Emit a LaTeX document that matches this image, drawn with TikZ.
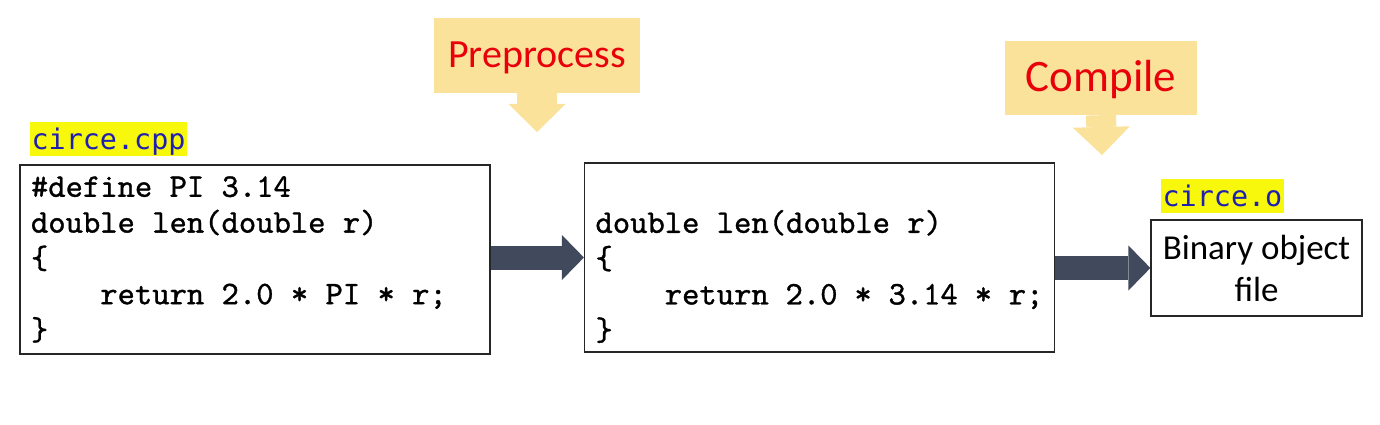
\documentclass[tikz,border=0pt]{standalone}
\usepackage{fontspec}
\setmainfont{Carlito}
\newfontfamily\labelmono{DejaVu Sans Mono}
\newfontfamily\codemono[FakeBold=1]{lmmono10-regular.otf}
\usetikzlibrary{arrows.meta,positioning}
\definecolor{callfill}{HTML}{FBE29A}
\definecolor{arrowgray}{HTML}{414A5C}
\definecolor{fileblue}{HTML}{1F1FB0}
\definecolor{hilite}{HTML}{F8F80C}
\definecolor{stepred}{HTML}{E8000B}

\begin{document}
\begin{tikzpicture}[x=1pt, y=-1pt,
  codebox/.style={draw=black!85, line width=1.2pt, align=flush left, inner xsep=11pt, inner ysep=0pt,
    text width=448pt, minimum height=189pt, font=\fontsize{33}{35.8}\selectfont\codemono},
  objbox/.style={draw=black!85, line width=1.2pt, align=center, minimum width=211pt, minimum height=96pt,
    font=\fontsize{35}{42}\selectfont},
  filelabel/.style={fill=hilite, text=fileblue, font=\fontsize{28.4}{34}\selectfont\labelmono,
    inner xsep=2pt, inner ysep=0pt, text height=27pt, text depth=6.8pt},
  callout/.style={fill=callfill, text=stepred, inner sep=0pt, text depth=0pt},
  callarrow/.style={draw=callfill, -{Triangle[length=28pt, width=57pt, line width=0pt]}},
  bigarrow/.style={draw=arrowgray, line width=24pt, -{Triangle[length=22pt, width=45pt, line width=0pt]}}]
\useasboundingbox[fill=white] (0,0) rectangle (1380,425);
% ---------------- source, preprocessed source, object file
\node[codebox] (src) at (255,259.5) {\spaceskip=0pt \#define PI 3.14\\ double len(double r)\\ \{\\ \hspace*{2.1em}return 2.0 * PI * r;\\ \}};
\node[codebox] (mid) at (819.5,257.5) {\spaceskip=0pt \strut\\ double len(double r)\\ \{\\ \hspace*{2.1em}return 2.0 * 3.14 * r;\\ \}};
\node[objbox] (obj) at (1256.5,268) {Binary object\\ file};
\node[filelabel, above right=8pt and 10pt of src.north west] (srcname) {circe.cpp};
\node[filelabel, above right=6pt and 10pt of obj.north west] (objname) {circe.o};
\draw[bigarrow] (src.east |- mid) -- (mid.west);
\draw[bigarrow] (mid.east |- obj) -- (obj.west);
% ---------------- step callouts
\node[callout, minimum width=206pt, minimum height=75pt, text height=25pt, font=\fontsize{40}{48}\selectfont] (pre) at (537,55.5) {Preprocess};
\coordinate (pretip) at (537,132);
\draw[callarrow, line width=40pt] (pre.south) -- (pretip);
\node[callout, minimum width=192pt, minimum height=74pt, text height=28pt, font=\fontsize{45}{54}\selectfont] (comp) at (1101,78) {Compile};
\coordinate (comptip) at (1102,155);
\draw[callarrow, line width=30pt] (comp.south) -- (comptip);
\end{tikzpicture}
\end{document}
